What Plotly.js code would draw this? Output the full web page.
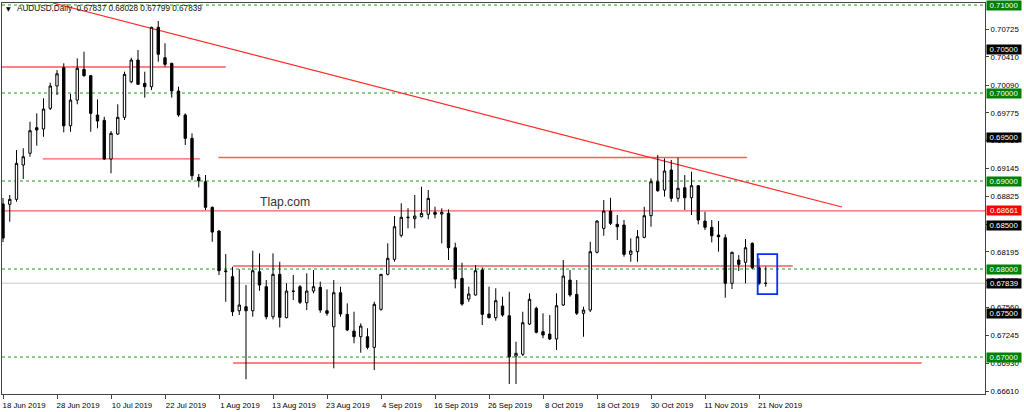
<!DOCTYPE html>
<html><head><meta charset="utf-8">
<script src="https://cdn.plot.ly/plotly-3.0.1.min.js"></script>
<style>html,body{margin:0;padding:0;background:#fff;overflow:hidden}#chart{width:1024px;height:412px}</style>
</head><body><div id="chart"></div>
<script>
// ---------------- data ----------------
const symbol = "AUDUSD,Daily";
const dateTicks = [0, 8, 16, 24, 32, 40, 48, 56, 64, 72, 80, 88, 96, 104, 112];
const dateLabels = ["18 Jun 2019","28 Jun 2019","10 Jul 2019","22 Jul 2019","1 Aug 2019","13 Aug 2019","23 Aug 2019","4 Sep 2019","16 Sep 2019","26 Sep 2019","8 Oct 2019","18 Oct 2019","30 Oct 2019","11 Nov 2019","21 Nov 2019"];
const priceTicks = [0.70725,0.70410,0.70090,0.69775,0.69460,0.69145,0.68825,0.68510,0.68195,0.67875,0.67560,0.67245,0.66930,0.66610];

const open = [
0.68739,0.68735,0.68792,0.69182,0.69315,0.69606,0.69591,0.69826,0.70080,0.70288,
0.69628,0.69920,0.70269,0.70197,0.69750,0.69690,0.69250,0.69534,0.69724,0.70128,
0.70375,0.70110,0.70072,0.70747,0.70401,0.70337,0.70023,0.69750,0.69485,0.69042,
0.68992,0.68701,0.68432,0.67969,0.67913,0.67526,0.67572,0.67526,0.67969,0.67799,
0.67458,0.67940,0.67447,0.67750,0.67799,0.67617,0.67750,0.67792,0.67526,0.67344,
0.67731,0.67485,0.67295,0.67231,0.67231,0.67110,0.67542,0.67940,0.68110,0.68383,
0.68583,0.68572,0.68594,0.68622,0.68644,0.68625,0.68633,0.68242,0.67894,0.67659,
0.67705,0.67989,0.67489,0.67447,0.67580,0.67469,0.67011,0.67031,0.67375,0.67553,
0.67288,0.67261,0.67205,0.67591,0.67875,0.67712,0.67497,0.67534,0.68190,0.68462,
0.68659,0.68508,0.68500,0.68167,0.68197,0.68360,0.68606,0.68992,0.68898,0.69125,
0.68803,0.68924,0.68810,0.68947,0.68545,0.68474,0.68386,0.68356,0.67838,0.68102,
0.68076,0.68292,0.68015,0.67837];
const high = [
0.68807,0.68841,0.69352,0.69372,0.69674,0.69769,0.69940,0.70117,0.70261,0.70337,
0.69989,0.70394,0.70469,0.70205,0.69928,0.69731,0.69568,0.69872,0.70242,0.70401,
0.70489,0.70242,0.70753,0.70818,0.70565,0.70344,0.70072,0.69769,0.69542,0.69080,
0.69068,0.68710,0.68440,0.68170,0.68026,0.67997,0.67818,0.68208,0.68178,0.67875,
0.68178,0.68083,0.67838,0.67932,0.67818,0.67951,0.67989,0.67856,0.67769,0.67875,
0.67799,0.67610,0.67515,0.67383,0.67326,0.67628,0.67943,0.68292,0.68602,0.68747,
0.68690,0.68841,0.68935,0.68898,0.68708,0.68690,0.68678,0.68299,0.68072,0.67799,
0.68045,0.68019,0.67799,0.67781,0.67685,0.67742,0.67174,0.67515,0.67724,0.67572,
0.67497,0.67477,0.67724,0.68102,0.67989,0.67875,0.67572,0.68310,0.68557,0.68784,
0.68810,0.68614,0.68557,0.68349,0.68443,0.68708,0.69031,0.69295,0.69258,0.69239,
0.69265,0.69068,0.69106,0.68955,0.68651,0.68557,0.68545,0.68394,0.68197,0.68159,
0.68341,0.68303,0.68122,0.68028];
const low = [
0.68307,0.68538,0.68765,0.69023,0.69276,0.69401,0.69503,0.69807,0.69977,0.69553,
0.69560,0.69872,0.70185,0.69560,0.69599,0.69239,0.69088,0.69523,0.69693,0.70110,
0.70091,0.69947,0.70034,0.70356,0.70299,0.69947,0.69731,0.69409,0.69011,0.68928,
0.68670,0.68310,0.67932,0.67628,0.67466,0.67477,0.66747,0.67458,0.67753,0.67428,
0.67428,0.67337,0.67440,0.67648,0.67602,0.67534,0.67724,0.67503,0.67469,0.66872,
0.67458,0.67295,0.67156,0.67049,0.67088,0.66852,0.67526,0.67928,0.68083,0.68360,
0.68462,0.68462,0.68588,0.68565,0.68576,0.68292,0.68102,0.67781,0.67583,0.67628,
0.67699,0.67364,0.67440,0.67413,0.67458,0.66693,0.66693,0.67011,0.67364,0.67269,
0.67213,0.67193,0.67080,0.67580,0.67685,0.67477,0.67231,0.67511,0.68178,0.68378,
0.68500,0.68330,0.68140,0.68083,0.68083,0.68349,0.68481,0.68878,0.68822,0.68765,
0.68765,0.68670,0.68614,0.68508,0.68443,0.68303,0.68197,0.67674,0.67773,0.67977,
0.67838,0.68000,0.67818,0.67799];
const close = [
0.68352,0.68792,0.69201,0.69276,0.69572,0.69580,0.69818,0.70080,0.70219,0.69628,
0.69920,0.70281,0.70197,0.69769,0.69682,0.69250,0.69542,0.69724,0.70212,0.70375,
0.70099,0.70072,0.70747,0.70440,0.70326,0.70023,0.69750,0.69485,0.69060,0.69003,
0.68701,0.68420,0.67981,0.67977,0.67515,0.67591,0.67526,0.67981,0.67818,0.67458,
0.67940,0.67451,0.67750,0.67747,0.67622,0.67750,0.67799,0.67534,0.67497,0.67731,
0.67489,0.67307,0.67231,0.67352,0.67110,0.67599,0.67940,0.68122,0.68481,0.68588,
0.68588,0.68602,0.68633,0.68803,0.68622,0.68644,0.68242,0.67886,0.67602,0.67716,
0.67981,0.67485,0.67447,0.67640,0.67477,0.67003,0.67042,0.67390,0.67656,0.67281,
0.67250,0.67205,0.67583,0.67920,0.67705,0.67497,0.67534,0.68197,0.68545,0.68659,
0.68519,0.68481,0.68167,0.68205,0.68367,0.68606,0.68992,0.68890,0.69114,0.68803,
0.68917,0.68810,0.68947,0.68557,0.68474,0.68378,0.68367,0.67838,0.68190,0.68053,
0.68242,0.68015,0.67838,0.67839];

// drawn objects (levels)
const roundLevels = [0.71, 0.70, 0.69, 0.68, 0.67];
const redLevels = [0.70295, 0.69252, 0.69267, 0.68661, 0.68034, 0.66932];
const redFrom   = [-1, 5.9, 31.9, -1, 34.1, 34.1];
const redTo     = [33.0, 29.2, 110.2, 150, 117.0, 136.1];
const trendStart = [7.4, 0.71023];
const trendEnd   = [124.3, 0.68705];
const boxStart = [111.8, 0.68170];
const boxEnd   = [114.7, 0.67716];
const labelLevels = [0.71, 0.705, 0.70, 0.695, 0.69, 0.68661, 0.685, 0.68, 0.67839, 0.675, 0.67];
const labelKinds  = ["g","k","g","k","g","r","k","g","k","k","g"];

// ---------------- styling ----------------
const FONT = "Liberation Sans, Arial, sans-serif";
const kindColor = {g: "#008000", k: "#000000", r: "#ff0000"};
const n = open.length;
const xs = open.map((_, i) => i);
const last = n - 1;
const currentPrice = close[last];

const shapes = [];
roundLevels.forEach(v => shapes.push({type:"line", xref:"paper", x0:0, x1:1, yref:"y", y0:v, y1:v,
  line:{color:"#1f9a1f", width:1, dash:"3px,3px"}, layer:"below"}));
shapes.push({type:"line", xref:"paper", x0:0, x1:1, yref:"y", y0:currentPrice, y1:currentPrice,
  line:{color:"#c8c8c8", width:1}, layer:"below"});
redLevels.forEach((v, k) => shapes.push({type:"line", xref:"x", x0:redFrom[k], x1:redTo[k], yref:"y", y0:v, y1:v,
  line:{color:"#ff5a5a", width:1.4}, layer:"below"}));
shapes.push({type:"line", xref:"x", yref:"y", x0:trendStart[0], y0:trendStart[1], x1:trendEnd[0], y1:trendEnd[1],
  line:{color:"#ff2a2a", width:1.2}, layer:"below"});
shapes.push({type:"rect", xref:"x", yref:"y", x0:boxStart[0], y0:boxStart[1], x1:boxEnd[0], y1:boxEnd[1],
  line:{color:"#0a2cff", width:1.8}, fillcolor:"rgba(0,0,0,0)", layer:"above"});

const annotations = [];
labelLevels.forEach((v, k) => annotations.push({
  xref:"paper", x:1.01913, xanchor:"center", yref:"y", y:v, yanchor:"middle",
  text:v.toFixed(5), showarrow:false, bgcolor:kindColor[labelKinds[k]], width:34, height:9, borderpad:0,
  font:{family:FONT, size:7.8, color:"#ffffff"}
}));
annotations.push({xref:"paper", x:0.0066, xanchor:"center", yref:"paper", y:0.9862, yanchor:"middle",
  text:"\u25BC", showarrow:false, font:{family:"DejaVu Sans", size:6, color:"#000"}});
annotations.push({xref:"paper", x:0.0132, xanchor:"left", yref:"paper", y:0.9862, yanchor:"middle",
  text: symbol + "\u00a0\u00a0" + [open[last], high[last], low[last], close[last]].map(v => v.toFixed(5)).join(" "),
  showarrow:false, font:{family:FONT, size:8.2, color:"#111"}});
annotations.push({xref:"paper", x:0.2604, xanchor:"left", yref:"paper", y:0.491, yanchor:"middle",
  text:"Tlap.com", showarrow:false, font:{family:FONT, size:12.2, color:"#333"}});

const trace = {
  type:"candlestick", x:xs, open:open, high:high, low:low, close:close,
  increasing:{line:{color:"#000", width:1}, fillcolor:"#ffffff"},
  decreasing:{line:{color:"#000", width:1}, fillcolor:"#000000"},
  whiskerwidth:0, hoverinfo:"skip", showlegend:false
};

const layout = {
  width:1024, height:412, autosize:false,
  margin:{l:2, r:39, t:3, b:18, pad:0},
  paper_bgcolor:"#fff", plot_bgcolor:"#fff",
  showlegend:false, hovermode:false, boxgap:0.5,
  xaxis:{range:[-0.148, 145.48], tickmode:"array", tickvals:dateTicks, ticktext:dateLabels,
    ticks:"outside", ticklen:4, tickcolor:"#444", showgrid:false, zeroline:false,
    showline:true, linecolor:"#444", linewidth:1, mirror:true, ticklabelshift:21,
    tickfont:{family:FONT, size:7.8, color:"#000"}, rangeslider:{visible:false}, fixedrange:true},
  yaxis:{side:"right", range:[0.66580, 0.71023], tickmode:"array", tickvals:priceTicks,
    ticktext:priceTicks.map(v => v.toFixed(5)), ticks:"outside", ticklen:3, tickcolor:"#444",
    showgrid:false, zeroline:false, showline:true, linecolor:"#444", linewidth:1, mirror:true,
    tickfont:{family:FONT, size:7.8, color:"#000"}, fixedrange:true},
  shapes:shapes, annotations:annotations
};

Plotly.newPlot("chart", [trace], layout, {staticPlot:true, displayModeBar:false});
</script></body></html>
